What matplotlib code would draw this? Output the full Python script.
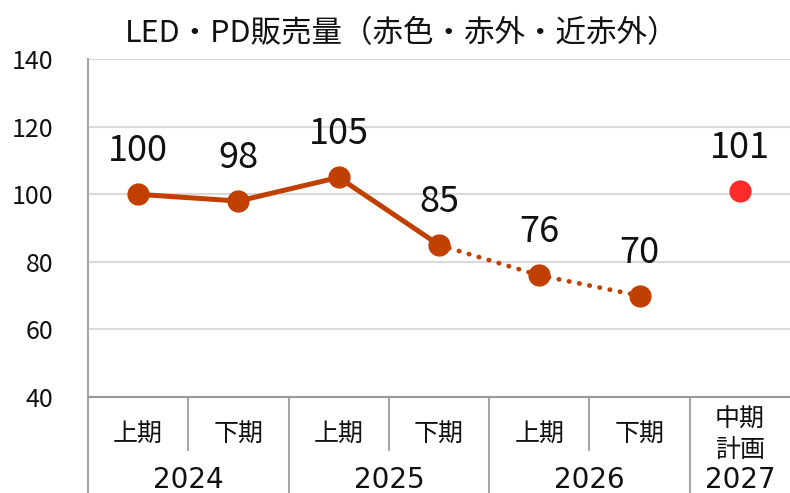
import numpy as np
import matplotlib.pyplot as plt
import matplotlib.transforms as mtransforms

plt.rcParams['font.family'] = ['Noto Sans CJK JP', 'DejaVu Sans']

halves = ['上期', '下期', '上期', '下期', '上期', '下期', '中期\n計画']
years = ['2024', '2025', '2026', '2027']
year_span = [2, 2, 2, 1]
actual = [100, 98, 105, 85]
forecast = [85, 76, 70]
plan = [101]

line_color = '#C04000'
plan_color = '#FF2A2A'

fig = plt.figure(figsize=(7.9, 4.93), dpi=100)
ax = fig.add_axes([0.1114, 0.1947, 0.8886, 0.6853])

x = np.arange(len(halves))
xa = x[:len(actual)]
xf = x[len(actual) - 1:len(actual) - 1 + len(forecast)]
xp = x[-len(plan):]

ax.plot(xa, actual, color=line_color, lw=3.6, marker='o', ms=15, zorder=3)
ax.plot(xf, forecast, color=line_color, lw=3.4, ls=(0, (0.1, 2.1)),
        dash_capstyle='round', zorder=2)
ax.plot(xf[1:], forecast[1:], color=line_color, lw=0, marker='o', ms=15, zorder=3)
ax.plot(xp, plan, color=plan_color, lw=0, marker='o', ms=15, zorder=3)

labels = actual + forecast[1:] + plan
for xi, v in zip(x, labels):
    ax.annotate(str(v), (xi, v), xytext=(0, 18), textcoords='offset points',
                ha='center', va='bottom', fontsize=26, color='#111111')

ax.set_xlim(-0.5, len(halves) - 0.5)
ax.set_ylim(40, 140)
ax.set_yticks(range(40, 141, 20))
ax.tick_params(axis='y', length=0, labelsize=18, pad=25, colors='#111111')
ax.set_xticks([])
ax.grid(axis='y', color='#D9D9D9', lw=1.5)
ax.set_axisbelow(True)
for s in ['top', 'right']:
    ax.spines[s].set_visible(False)
ax.spines['left'].set_color('#A6A6A6')
ax.spines['left'].set_linewidth(1.5)
ax.spines['bottom'].set_color('#999999')
ax.spines['bottom'].set_linewidth(1.5)

fig.text(0.509, 0.915, 'LED・PD販売量（赤色・赤外・近赤外）', fontsize=22,
         ha='center', va='baseline', color='#111111')

# category axis labels below the plot
tr = mtransforms.blended_transform_factory(ax.transData, ax.transAxes)
for i, h in enumerate(halves):
    if '\n' in h:
        top, bottom = h.split('\n')
        ax.text(i, -0.088, top, transform=tr, ha='center', va='baseline',
                fontsize=18, color='#111111')
        ax.text(i, -0.178, bottom, transform=tr, ha='center', va='baseline',
                fontsize=18, color='#111111')
    else:
        ax.text(i, -0.13, h, transform=tr, ha='center', va='baseline',
                fontsize=18, color='#111111')
start = 0
for y, n in zip(years, year_span):
    c = start + (n - 1) / 2
    ax.text(c, -0.268, y, transform=tr, ha='center', va='baseline',
            fontsize=20, family='DejaVu Sans', color='#111111')
    ax.plot([start - 0.5, start - 0.5], [0, -0.30], transform=tr,
            color='#A6A6A6', lw=1.5, clip_on=False)
    if n > 1:
        ax.plot([start + 0.5, start + 0.5], [0, -0.157], transform=tr,
                color='#A6A6A6', lw=1.5, clip_on=False)
    start += n

plt.savefig('out.png', dpi=100)
